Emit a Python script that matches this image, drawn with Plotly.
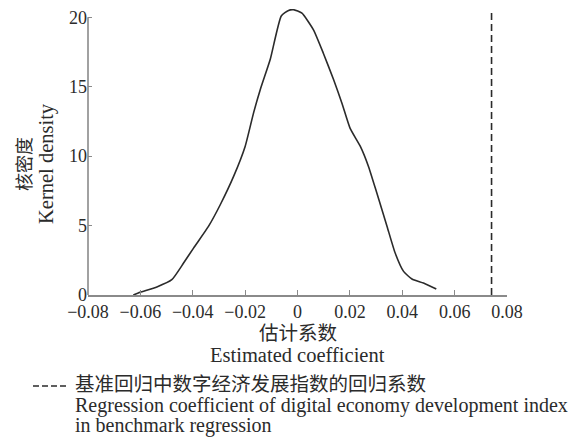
import plotly.graph_objects as go

# Kernel density of estimated coefficients
coef_x = [-0.0627, -0.0601, -0.0537, -0.0480, -0.0435, -0.0397, -0.0340, -0.0295,
          -0.0244, -0.0200, -0.0168, -0.0142, -0.0104, -0.0062, -0.0034, -0.0015,
          0.0017, 0.0061, 0.0099, 0.0138, 0.0170, 0.0201, 0.0240, 0.0271,
          0.0303, 0.0342, 0.0373, 0.0405, 0.0437, 0.0481, 0.0530]
density_y = [0.0, 0.19, 0.58, 1.10, 2.30, 3.38, 4.94, 6.50,
             8.54, 10.70, 13.10, 14.80, 16.98, 20.10, 20.50, 20.55,
             20.30, 19.10, 17.40, 15.50, 13.80, 12.00, 10.70, 9.26,
             7.34, 4.94, 3.02, 1.70, 1.15, 0.86, 0.43]

benchmark_coef = 0.0741
benchmark_top = 20.55

x_ticks = [-0.08, -0.06, -0.04, -0.02, 0, 0.02, 0.04, 0.06, 0.08]
x_tick_labels = ["−0.08", "−0.06", "−0.04", "−0.02", "0", "0.02", "0.04", "0.06", "0.08"]
y_ticks = [0, 5, 10, 15, 20]

y_title = ["核密度", "Kernel density"]
x_title = ["估计系数", "Estimated coefficient"]
legend_lines = ["基准回归中数字经济发展指数的回归系数",
                "Regression coefficient of digital economy development index",
                "in benchmark regression"]

FONT = "Liberation Serif, Times New Roman, Noto Sans CJK SC, serif"
TXT = "#2b2b2b"
AX = "#8a8a8a"
W, H = 574, 438
ML, MR, MT, MB = 88, 67, 9, 143

fig = go.Figure()
fig.add_trace(go.Scatter(x=coef_x, y=density_y, mode="lines",
                         line=dict(color="#2b2b2b", width=1.6, shape="spline", smoothing=0.5),
                         showlegend=False, hoverinfo="skip"))
fig.add_trace(go.Scatter(x=[benchmark_coef, benchmark_coef], y=[0, benchmark_top], mode="lines",
                         line=dict(color="#2b2b2b", width=1.6, dash="7px,4px"),
                         name=legend_lines[0], showlegend=False, hoverinfo="skip"))

# y axis line (0..20 only)
fig.add_shape(type="line", xref="paper", yref="y", x0=0, x1=0, y0=0, y1=y_ticks[-1],
              line=dict(color=AX, width=1.6), layer="above")

pw = W - ML - MR
ph = H - MT - MB


def px_x(p):
    return (p - ML) / pw


def px_y(p):
    return (H - MB - p) / ph


def note(x, y, text, size, anchor="center", angle=0):
    fig.add_annotation(xref="paper", yref="paper", x=px_x(x), y=px_y(y), text=text,
                       textangle=angle, showarrow=False,
                       font=dict(size=size, color=TXT, family=FONT),
                       xanchor=anchor, yanchor="middle", align="left", borderpad=0)


# axis titles
note(25, 164, y_title[0], 18, angle=-90)
note(46, 164, y_title[1], 20.5, angle=-90)
note(297.5, 334, x_title[0], 19.5)
note(297.5, 355, x_title[1], 20.5)

# legend (manual)
fig.add_shape(type="line", xref="paper", yref="paper", x0=px_x(33), x1=px_x(69),
              y0=px_y(386), y1=px_y(386), line=dict(color="#2b2b2b", width=1.6, dash="6px,3px"))
note(74, 384, legend_lines[0], 19.5, anchor="left")
note(74, 405, legend_lines[1], 20, anchor="left")
note(74, 425, legend_lines[2], 20, anchor="left")

fig.update_layout(
    width=W, height=H,
    margin=dict(l=ML, r=MR, t=MT, b=MB),
    paper_bgcolor="white", plot_bgcolor="white",
    font=dict(family=FONT, size=18, color=TXT),
    xaxis=dict(range=[-0.08, 0.08], tickvals=x_ticks, ticktext=x_tick_labels,
               showline=True, linecolor=AX, linewidth=1.6, ticks="inside", ticklen=5,
               tickcolor=AX, tickwidth=1.4, showgrid=False, zeroline=False,
               tickfont=dict(size=18, color=TXT, family=FONT)),
    yaxis=dict(range=[0, 20.6], tickvals=y_ticks, showline=False, ticks="inside",
               ticklen=4, tickcolor=AX, tickwidth=1.4, showgrid=False, zeroline=False,
               tickfont=dict(size=18, color=TXT, family=FONT)),
)

fig.write_html("out.html", config={"displayModeBar": False},
               post_script="document.body.style.margin='0px';document.body.style.overflow='hidden';")
